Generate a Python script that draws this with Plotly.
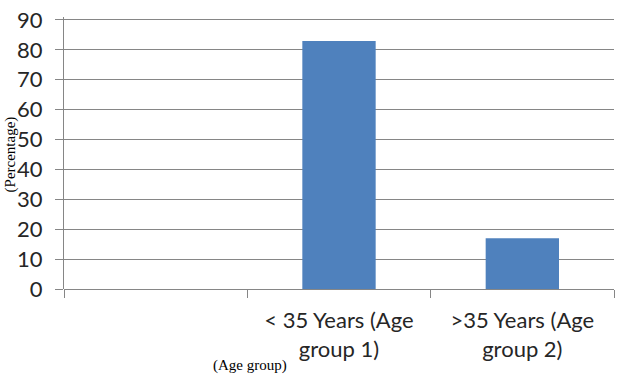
import plotly.graph_objects as go

categories = ["", "< 35 Years (Age group 1)", ">35 Years (Age group 2)"]
tick_labels = ["", "< 35 Years (Age<br>group 1)", ">35 Years (Age<br>group 2)"]
values = [None, 83, 17]
y_ticks = [0, 10, 20, 30, 40, 50, 60, 70, 80, 90]

xs = list(range(len(categories)))

fig = go.Figure(go.Bar(
    x=xs, y=values, width=0.4,
    marker=dict(color="#4F81BD", line=dict(width=0)),
    hovertext=categories,
))

fig.update_layout(
    width=628, height=376,
    margin=dict(l=64, r=14, t=17, b=87),
    plot_bgcolor="white", paper_bgcolor="white",
    showlegend=False,
    font=dict(family="Lato, Open Sans, sans-serif", color="#262626"),
)
fig.update_xaxes(
    range=[-0.5, 2.5], automargin=False,
    tickvals=xs, ticktext=tick_labels,
    ticks="", showgrid=False, zeroline=False,
    showline=False,
    tickfont=dict(size=22, family="Lato, sans-serif", color="#262626"),
    ticklabelstandoff=16,
    minor=dict(tickvals=[-0.5, 0.5, 1.5, 2.5], ticks="outside", ticklen=8, tickcolor="#868686", tickwidth=1, showgrid=False),
)
fig.update_yaxes(
    range=[0, 91], tickvals=y_ticks, automargin=False,
    showgrid=True, gridcolor="#868686", gridwidth=1,
    zeroline=True, zerolinecolor="#868686", zerolinewidth=1,
    showline=False,
    ticks="outside", ticklen=8, tickcolor="#868686",
    tickfont=dict(size=22, family="Lato, sans-serif", color="#262626"),
    ticklabelstandoff=8,
)
# left axis line only from 0 to 90
fig.update_yaxes(showline=True, linecolor="#868686", linewidth=1)
fig.add_annotation(
    text="(Percentage)", xref="paper", yref="paper",
    x=-0.098, y=0.495, xanchor="center", yanchor="middle",
    textangle=-90, showarrow=False,
    font=dict(family="Liberation Serif, Times New Roman, serif", size=15, color="#000000"),
)
fig.add_annotation(
    text="(Age group)", xref="paper", yref="paper",
    x=0.338, y=-0.283, xanchor="center", yanchor="middle",
    showarrow=False,
    font=dict(family="Liberation Serif, Times New Roman, serif", size=15, color="#000000"),
)
fig.write_html("out.html", config={"displayModeBar": False},
               post_script="document.body.style.margin='0';")
